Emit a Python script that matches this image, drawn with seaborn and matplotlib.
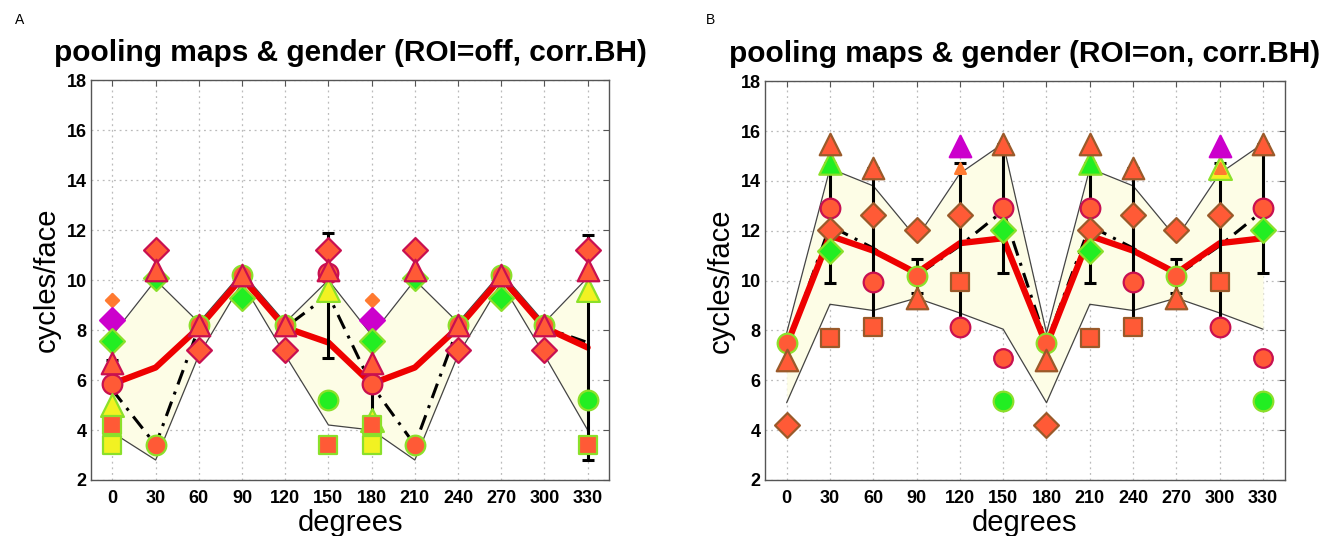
import numpy as np
import matplotlib
matplotlib.use("Agg")
import matplotlib.pyplot as plt
import seaborn as sns

nan = np.nan
deg = [0, 30, 60, 90, 120, 150, 180, 210, 240, 270, 300, 330]
titles = ["pooling maps & gender (ROI=off, corr.BH)", "pooling maps & gender (ROI=on, corr.BH)"]
panel_labels = ["A", "B"]
yticks = [2, 4, 6, 8, 10, 12, 14, 16, 18]

# ---------------- Panel A ----------------
A_mean = [5.85, 6.5, 8.1, 10.1, 8.1, 7.5, 5.85, 6.5, 8.1, 10.1, 8.1, 7.3]
A_median = [5.6, 3.4, 8.1, 10.1, 8.1, 9.4, 5.8, 3.4, 8.1, 10.1, 8.1, 7.5]
A_upper = [7.8, 10.0, 8.3, 10.3, 8.3, 10.0, 7.8, 10.0, 8.3, 10.3, 8.3, 10.1]
A_lower = [3.9, 2.8, 7.0, 9.9, 7.0, 4.2, 4.0, 2.8, 7.0, 9.9, 7.0, 4.0]
A_err_lo = [4.2, nan, nan, nan, nan, 6.9, 4.4, nan, nan, nan, nan, 2.8]
A_err_hi = [6.8, nan, nan, nan, nan, 11.9, 6.6, nan, nan, nan, nan, 11.8]

A_circ_mag = [5.85, nan, nan, nan, nan, 10.3, 5.85, nan, nan, nan, nan, nan]
A_circ_grn = [nan, 3.4, 8.2, 10.2, 8.2, nan, nan, 3.4, 8.2, 10.2, 8.2, nan]
A_circ_green = [nan, nan, nan, nan, nan, 5.2, nan, nan, nan, nan, nan, 5.2]
A_tri_yel = [5.0, nan, nan, nan, nan, 9.6, 4.4, nan, nan, nan, nan, 9.6]
A_sq_red = [4.2, nan, nan, nan, nan, 3.4, 4.2, nan, nan, nan, nan, 3.4]
A_sq_yel = [3.4, nan, nan, nan, nan, nan, 3.4, nan, nan, nan, nan, nan]
A_dia_small = [9.2, nan, nan, nan, nan, nan, 9.2, nan, nan, nan, nan, nan]
A_dia_mag = [8.4, nan, nan, nan, nan, nan, 8.4, nan, nan, nan, nan, nan]
A_dia_green = [7.55, 10.1, nan, 9.3, nan, nan, 7.55, 10.1, nan, 9.3, nan, nan]
A_dia_red = [nan, 11.2, 7.2, nan, 7.2, 11.2, nan, 11.2, 7.2, nan, 7.2, 11.2]
A_tri_red = [6.7, 10.4, 8.2, 10.2, 8.2, 10.4, 6.7, 10.4, 8.2, 10.2, 8.2, 10.4]

# ---------------- Panel B ----------------
B_mean = [7.4, 11.8, 11.2, 10.3, 11.5, 11.7, 7.4, 11.8, 11.2, 10.3, 11.5, 11.7]
B_median = [7.3, 12.2, 11.3, 10.2, 11.4, 12.8, 7.5, 12.2, 11.3, 10.2, 11.4, 12.8]
B_upper = [7.9, 14.5, 13.8, 11.7, 14.3, 15.5, 7.9, 14.5, 13.8, 11.7, 14.3, 15.5]
B_lower = [5.1, 9.05, 8.8, 9.3, 8.7, 8.05, 5.1, 9.05, 8.8, 9.3, 8.7, 8.05]
B_err_lo = [nan, 9.9, 8.15, 9.5, 8.15, 10.3, nan, 9.9, 8.15, 9.5, 8.15, 10.3]
B_err_hi = [nan, 14.7, 14.5, 10.85, 14.7, 15.5, nan, 14.7, 14.5, 10.85, 14.7, 15.5]

B_circ_mag = [nan, 12.9, 9.95, nan, 8.15, 12.9, nan, 12.9, 9.95, nan, 8.15, 12.9]
B_circ_grn = [7.5, nan, nan, 10.2, nan, nan, 7.5, nan, nan, 10.2, nan, nan]
B_circ_out_mag = [nan, nan, nan, nan, nan, 6.9, nan, nan, nan, nan, nan, 6.9]
B_circ_green = [nan, nan, nan, nan, nan, 5.15, nan, nan, nan, nan, nan, 5.15]
B_sq_red = [nan, 7.7, 8.15, nan, 9.95, nan, nan, 7.7, 8.15, nan, 9.95, nan]
B_dia_red = [4.2, 12.05, 12.65, 12.05, 12.65, nan, 4.2, 12.05, 12.65, 12.05, 12.65, nan]
B_dia_green = [nan, 11.2, nan, nan, nan, 12.05, nan, 11.2, nan, nan, nan, 12.05]
B_tri_grn = [nan, 14.7, nan, nan, nan, nan, nan, 14.7, nan, nan, nan, nan]
B_tri_yel = [nan, nan, nan, nan, nan, nan, nan, nan, nan, nan, 14.5, nan]
B_tri_red = [6.8, 15.5, 14.5, 9.3, nan, 15.5, 6.8, 15.5, 14.5, 9.3, nan, 15.5]
B_tri_mag = [nan, nan, nan, nan, 15.4, nan, nan, nan, nan, nan, 15.4, nan]
B_tri_small = [nan, nan, nan, nan, 14.5, nan, nan, nan, nan, nan, 14.5, nan]

# ---------------- styles ----------------
RED = "#FF5A36"
CRIM = "#C81050"
LGRN = "#8BE02A"
BRN = "#9A5A2A"
GRN = "#22EE22"
YEL = "#F2F222"
MAG = "#CC00CC"
ORG = "#FF7A30"

# (values, marker, face, edge, size)
A_marks = [
    (A_circ_mag, "o", RED, CRIM, 200),
    (A_circ_grn, "o", RED, LGRN, 200),
    (A_circ_green, "o", GRN, LGRN, 200),
    (A_tri_yel, "^", YEL, LGRN, 270),
    (A_sq_yel, "s", YEL, LGRN, 170),
    (A_sq_red, "s", RED, LGRN, 160),
    (A_dia_small, "D", ORG, ORG, 45),
    (A_dia_mag, "D", MAG, MAG, 160),
    (A_dia_green, "D", GRN, LGRN, 160),
    (A_dia_red, "D", RED, CRIM, 160),
    (A_tri_red, "^", RED, CRIM, 240),
]
B_marks = [
    (B_circ_mag, "o", RED, CRIM, 200),
    (B_circ_grn, "o", RED, LGRN, 200),
    (B_circ_out_mag, "o", RED, CRIM, 180),
    (B_circ_green, "o", GRN, LGRN, 200),
    (B_sq_red, "s", RED, BRN, 160),
    (B_dia_red, "D", RED, BRN, 160),
    (B_dia_green, "D", GRN, LGRN, 160),
    (B_tri_grn, "^", GRN, LGRN, 260),
    (B_tri_yel, "^", YEL, LGRN, 270),
    (B_tri_red, "^", RED, BRN, 240),
    (B_tri_mag, "^", MAG, MAG, 240),
    (B_tri_small, "^", ORG, ORG, 60),
]

sns.set_style("white")
plt.rcParams["font.family"] = ["Liberation Sans", "DejaVu Sans"]
plt.rcParams["text.color"] = "black"
plt.rcParams["axes.labelcolor"] = "black"
plt.rcParams["xtick.color"] = "black"
plt.rcParams["ytick.color"] = "black"

fig = plt.figure(figsize=(13.36, 5.36), dpi=100)
rects = [[0.068, 0.1045, 0.388, 0.746], [0.5726, 0.1045, 0.389, 0.744]]
label_x = [0.011, 0.528]
panels = [
    (A_mean, A_median, A_upper, A_lower, A_err_lo, A_err_hi, A_marks),
    (B_mean, B_median, B_upper, B_lower, B_err_lo, B_err_hi, B_marks),
]

for i, (mean, med, up, lo, elo, ehi, marks) in enumerate(panels):
    ax = fig.add_axes(rects[i])
    ax.fill_between(deg, lo, up, color="#FDFDE6", zorder=1, linewidth=0)
    sns.lineplot(x=deg, y=up, ax=ax, color="#444444", lw=0.9, zorder=2,
                 estimator=None, sort=False)
    sns.lineplot(x=deg, y=lo, ax=ax, color="#444444", lw=0.9, zorder=2,
                 estimator=None, sort=False)
    sns.lineplot(x=deg, y=med, ax=ax, color="black", lw=2.2, zorder=3,
                 estimator=None, sort=False, linestyle=(0, (5, 2.5, 1, 2.5)))
    sns.lineplot(x=deg, y=mean, ax=ax, color="#EE0000", lw=4.5, zorder=3.5,
                 estimator=None, sort=False)
    lo_a = np.array(elo, dtype=float)
    hi_a = np.array(ehi, dtype=float)
    mid = (lo_a + hi_a) / 2
    ax.errorbar(deg, mid, yerr=[mid - lo_a, hi_a - mid], fmt="none",
                ecolor="black", elinewidth=2.2, capsize=4.5, capthick=2.2, zorder=4)
    for k, (vals, mk, fc, ec, sz) in enumerate(marks):
        sns.scatterplot(x=deg, y=vals, ax=ax, marker=mk, s=sz, color=fc,
                        edgecolor=ec, linewidth=1.6, zorder=5 + k * 0.1, legend=False)

    ax.set_xlim(-15, 345)
    ax.set_ylim(2, 18)
    ax.set_xticks(deg)
    ax.set_xticklabels([str(d) for d in deg], fontweight="bold", fontsize=13)
    ax.set_yticks(yticks)
    ax.set_yticklabels([str(t) for t in yticks], fontweight="bold", fontsize=13)
    ax.tick_params(direction="in", length=4, top=True, right=True, color="#555555")
    ax.tick_params(axis="x", pad=7)
    ax.tick_params(axis="y", pad=3)
    ax.grid(True, linestyle=(0, (1.5, 3)), color="#BBBBBB", lw=0.9, zorder=0)
    ax.set_axisbelow(True)
    for sp in ax.spines.values():
        sp.set_visible(True)
        sp.set_color("#555555")
        sp.set_linewidth(1.0)
    ax.set_xlabel("degrees", fontsize=21, labelpad=2)
    ax.set_ylabel("cycles/face", fontsize=21, labelpad=4)
    ax.set_title(titles[i], fontsize=21.5, fontweight="bold", pad=14)
    fig.text(label_x[i], 0.955, panel_labels[i], fontsize=10)

fig.savefig("out.png", dpi=100)
